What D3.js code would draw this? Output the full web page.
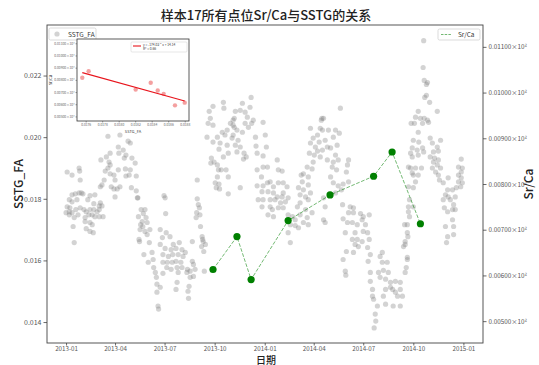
<!DOCTYPE html>
<html><head><meta charset="utf-8">
<script src="https://cdn.jsdelivr.net/npm/d3@7"></script>
<style>body{margin:0;background:#fff}svg{display:block}text{font-family:"Noto Sans CJK SC","DejaVu Sans",sans-serif}</style>
</head><body><svg id="c" width="539" height="365"></svg>
<script>
// ---------- data ----------
// SSTG_FA daily series: day offset from 2013-01-01, value
const sstgDays = [
77,99,114,118,96,105,97,110,107,121,127,81,74,64,79,81,77,72,81,88,
90,96,109,118,116,129,110,99,94,88,83,90,63,66,70,120,129,132,2,11,
24,25,26,11,17,24,28,31,6,11,20,44,53,63,61,66,51,40,2,7,
6,0,11,18,22,33,37,44,51,57,61,35,42,48,53,61,68,26,15,6,
35,44,48,13,37,44,50,15,134,135,136,137,133,138,131,
289,270,263,290,265,261,270,307,302,309,296,287,292,278,259,305,270,283,296,281,
298,289,267,272,266,278,285,294,280,298,278,274,281,276,282,298,241,180,182,183,
145,142,147,140,149,141,145,149,154,173,184,191,177,153,173,197,208,232,182,193,
202,213,219,143,158,178,188,196,206,215,160,151,178,186,195,202,211,232,234,161,
185,193,204,213,223,228,237,164,178,206,222,166,204,228,234,167,173,202,226,224,
167,225,169,170,241,243,245,240,246,239,247,250,251,252,256,249,253,254,
340,324,311,320,329,338,333,344,341,329,335,309,307,314,324,307,316,311,320,314,
327,331,326,348,349,351,362,366,368,362,320,351,362,370,388,390,397,359,351,362,
370,375,381,390,399,406,360,371,381,388,397,399,408,353,362,375,384,394,403,360,
375,379,390,399,371,381,408,416,421,412,421,427,408,412,449,462,467,454,449,465,
458,462,471,456,467,473,469,447,454,443,452,432,436,445,434,445,427,436,449,430,
440,430,445,425,440,430,443,452,436,445,473,
504,470,471,482,495,502,491,480,486,476,498,495,480,491,500,519,517,489,497,515,
486,519,491,500,509,506,495,473,508,522,528,476,519,528,541,546,557,509,476,517,
526,544,550,535,513,531,546,554,526,535,531,537,544,557,515,528,554,559,509,555,
581,577,581,590,513,514,559,574,583,592,577,587,596,605,614,559,563,587,596,600,
605,614,618,609,563,565,583,587,601,614,572,568,569,566,622,627,623,620,627,625,
640,638,636,633,638,629,631,638,629,631,
657,656,658,664,662,659,662,668,682,647,642,651,658,664,666,634,655,647,648,669,
688,673,636,645,655,682,675,633,647,657,684,669,677,684,675,682,629,642,653,673,
688,679,684,636,647,642,686,638,629,627,628,623,627,623,726,721,728,702,726,721,
728,725,717,693,701,710,697,702,715,693,706,712,695,701,710,715,710,697,712,701,
712,699,726,721
];
const sstgValues = [
0.02003,0.02007,0.01987,0.01981,0.01968,0.01958,0.01948,0.01942,0.01932,0.01932,0.01916,0.01948,0.01936,0.01926,0.01919,0.01910,0.01900,0.01890,0.01881,0.01877,
0.01861,0.01894,0.01897,0.01894,0.01877,0.01874,0.01874,0.01839,0.01832,0.01832,0.01839,0.01806,0.01839,0.01845,0.01861,0.01836,0.01826,0.01803,0.01887,0.01877,
0.01900,0.01890,0.01861,0.01813,0.01816,0.01819,0.01819,0.01816,0.01797,0.01790,0.01797,0.01810,0.01813,0.01787,0.01777,0.01777,0.01784,0.01797,0.01774,0.01771,
0.01758,0.01755,0.01755,0.01765,0.01748,0.01765,0.01758,0.01765,0.01765,0.01758,0.01765,0.01739,0.01748,0.01748,0.01742,0.01742,0.01742,0.01771,0.01739,0.01748,
0.01726,0.01723,0.01716,0.01710,0.01703,0.01694,0.01690,0.01658,0.01668,0.01661,0.01700,0.01716,0.01742,0.01765,0.01803,
0.02113,0.02100,0.02084,0.02094,0.02061,0.02045,0.02039,0.02055,0.02045,0.02032,0.02023,0.02016,0.02007,0.02000,0.02000,0.01997,0.01984,0.01981,0.01974,0.01961,
0.01948,0.01936,0.01932,0.01919,0.01916,0.01910,0.01894,0.01894,0.01894,0.01871,0.01871,0.01852,0.01848,0.01836,0.01832,0.01816,0.01861,0.01810,0.01803,0.01752,
0.01765,0.01752,0.01739,0.01726,0.01723,0.01710,0.01694,0.01684,0.01700,0.01700,0.01690,0.01677,0.01674,0.01658,0.01652,0.01652,0.01658,0.01661,0.01639,0.01635,
0.01639,0.01635,0.01626,0.01619,0.01626,0.01619,0.01613,0.01619,0.01619,0.01613,0.01603,0.01594,0.01594,0.01594,0.01594,0.01597,0.01594,0.01597,0.01587,0.01577,
0.01577,0.01571,0.01577,0.01577,0.01571,0.01565,0.01571,0.01561,0.01558,0.01561,0.01561,0.01545,0.01529,0.01545,0.01548,0.01523,0.01513,0.01506,0.01516,0.01500,
0.01497,0.01477,0.01452,0.01442,0.01800,0.01781,0.01771,0.01755,0.01748,0.01739,0.01710,0.01677,0.01668,0.01661,0.01652,0.01645,0.01629,0.01565,
0.02129,0.02110,0.02084,0.02087,0.02081,0.02097,0.02065,0.02055,0.02045,0.02045,0.02032,0.02061,0.02039,0.02023,0.02016,0.02007,0.01990,0.01974,0.01968,0.01952,
0.01948,0.01936,0.01929,0.02000,0.01971,0.01948,0.02048,0.02007,0.01968,0.01939,0.01836,0.01894,0.01903,0.01903,0.01926,0.01894,0.01890,0.01871,0.01842,0.01842,
0.01852,0.01855,0.01839,0.01852,0.01852,0.01839,0.01823,0.01823,0.01819,0.01806,0.01806,0.01819,0.01803,0.01797,0.01797,0.01797,0.01797,0.01787,0.01790,0.01774,
0.01774,0.01765,0.01771,0.01771,0.01748,0.01742,0.01748,0.01742,0.01732,0.01716,0.01713,0.01706,0.01690,0.01658,0.02029,0.02007,0.02029,0.01997,0.01981,0.01984,
0.01968,0.01955,0.01958,0.01942,0.01936,0.02061,0.02055,0.01948,0.01919,0.01903,0.01897,0.01877,0.01881,0.01871,0.01855,0.01845,0.01836,0.01829,0.01819,0.01813,
0.01806,0.01787,0.01797,0.01774,0.01765,0.01748,0.01739,0.01755,0.01723,0.01716,0.01732,
0.02094,0.02061,0.02023,0.02023,0.02023,0.02013,0.02000,0.01968,0.01965,0.01990,0.01974,0.01942,0.01926,0.01919,0.01926,0.01926,0.01910,0.01903,0.01894,0.01887,
0.01871,0.01855,0.01852,0.01842,0.01848,0.01829,0.01819,0.01803,0.01781,0.01774,0.01771,0.01774,0.01755,0.01755,0.01752,0.01742,0.01748,0.01735,0.01723,0.01723,
0.01723,0.01732,0.01716,0.01716,0.01690,0.01690,0.01694,0.01690,0.01668,0.01668,0.01652,0.01645,0.01661,0.01668,0.01629,0.01626,0.01642,0.01619,0.01603,0.01597,
0.01626,0.01613,0.01594,0.01594,0.01565,0.01552,0.01561,0.01561,0.01568,0.01561,0.01545,0.01539,0.01529,0.01532,0.01529,0.01532,0.01506,0.01506,0.01513,0.01506,
0.01497,0.01506,0.01484,0.01484,0.01484,0.01474,0.01484,0.01458,0.01452,0.01452,0.01452,0.01426,0.01403,0.01381,0.01716,0.01690,0.01661,0.01645,0.01603,0.01577,
0.02045,0.01990,0.01936,0.01900,0.01877,0.01839,0.01797,0.01774,0.01758,0.01742,
0.02313,0.02226,0.02184,0.02177,0.02171,0.02129,0.02136,0.02113,0.02084,0.02084,0.02065,0.02061,0.02061,0.02055,0.02048,0.02045,0.02045,0.02016,0.01984,0.01997,
0.01990,0.01981,0.01965,0.01958,0.01965,0.01968,0.01952,0.01948,0.01942,0.01952,0.01955,0.01936,0.01932,0.01926,0.01919,0.01910,0.01903,0.01900,0.01900,0.01900,
0.01900,0.01887,0.01877,0.01884,0.01877,0.01855,0.01861,0.01836,0.01774,0.01716,0.01677,0.01652,0.01610,0.01561,0.01929,0.01903,0.01900,0.01868,0.01868,0.01855,
0.01852,0.01839,0.01836,0.01852,0.01829,0.01829,0.01813,0.01806,0.01806,0.01797,0.01797,0.01781,0.01771,0.01758,0.01765,0.01765,0.01732,0.01710,0.01710,0.01677,
0.01684,0.01658,0.01887,0.01877
];
// Sr/Ca samples
const srcaDates = ["2013-09-28","2013-11-11","2013-12-07","2014-02-13","2014-05-01","2014-07-20","2014-08-23","2014-10-14"];
const srcaValues = [0.00613,0.00685,0.00591,0.00720,0.00776,0.00817,0.00870,0.00713];
const srcaSstg = [0.01880,0.018545,0.018682,0.018206,0.018388,0.017559,0.017636,0.018473];
// ticks
const xTickLabels = ["2013-01","2013-04","2013-07","2013-10","2014-01","2014-04","2014-07","2014-10","2015-01"];
const leftTicks = [0.014,0.016,0.018,0.020,0.022];
const rightTicks = [0.005,0.006,0.007,0.008,0.009,0.010,0.011];
const insetXTicks = [0.0176,0.0178,0.0180,0.0182,0.0184,0.0186,0.0188];
const insetYTicks = [0.005,0.006,0.007,0.008,0.009,0.010,0.011];
const fitText = ["y = -174.02 * x + 14.14","R² = 0.66"];

// ---------- drawing ----------
const W=539,H=365, M={l:47,r:483,t:25,b:343};
const svg=d3.select("#c");
svg.append("rect").attr("width",W).attr("height",H).attr("fill","#fff");
const parse=d3.timeParse("%Y-%m-%d"), parseM=d3.timeParse("%Y-%m");
const t0=new Date(2013,0,1);
const x=d3.scaleTime().domain([new Date(2012,10,27),new Date(2015,1,6)]).range([M.l,M.r]);
const yL=d3.scaleLinear().domain([0.01332,0.02364]).range([M.b,M.t]);
const yR=d3.scaleLinear().domain([0.004522,0.011478]).range([M.b,M.t]);

const n=Math.min(sstgDays.length,sstgValues.length);
const pts=d3.range(n).map(i=>({date:d3.timeDay.offset(t0,sstgDays[i]),v:sstgValues[i]}));
svg.append("g").selectAll("circle").data(pts).join("circle")
  .attr("cx",d=>x(d.date)).attr("cy",d=>yL(d.v)).attr("r",2.6)
  .attr("fill","#7f7f7f").attr("fill-opacity",0.34);

const sr=srcaDates.map((d,i)=>({date:parse(d),v:srcaValues[i],s:srcaSstg[i]}));
svg.append("path").datum(sr).attr("fill","none").attr("stroke","#008000").attr("stroke-opacity",0.55)
  .attr("stroke-width",1).attr("stroke-dasharray","3.7,1.6")
  .attr("d",d3.line().x(d=>x(d.date)).y(d=>yR(d.v)));
svg.append("g").selectAll("circle").data(sr).join("circle")
  .attr("cx",d=>x(d.date)).attr("cy",d=>yR(d.v)).attr("r",3.6).attr("fill","#008000");

// axes
const gx=svg.append("g").attr("transform",`translate(0,${M.b})`)
  .call(d3.axisBottom(x).tickValues(xTickLabels.map(s=>parseM(s))).tickFormat(d3.timeFormat("%Y-%m")).tickSize(2.5).tickPadding(1));
const gl=svg.append("g").attr("transform",`translate(${M.l},0)`)
  .call(d3.axisLeft(yL).tickValues(leftTicks).tickFormat(d3.format(".3f")).tickSize(3.5).tickPadding(2));
const gr=svg.append("g").attr("transform",`translate(${M.r},0)`)
  .call(d3.axisRight(yR).tickValues(rightTicks).tickFormat(d=>d3.format(".5f")(d)+"×10²").tickSize(3.5).tickPadding(2));
[gx,gl,gr].forEach(g=>{g.select(".domain").remove();
  g.selectAll(".tick line").attr("stroke","#444").attr("stroke-width",0.8);
  g.selectAll(".tick text").attr("fill","#555").style("font-size","7px");});
gx.selectAll(".tick text").style("font-size","6.2px");
gr.selectAll(".tick text").style("font-size","6.3px");
svg.append("rect").attr("x",M.l).attr("y",M.t).attr("width",M.r-M.l).attr("height",M.b-M.t)
  .attr("fill","none").attr("stroke","#444").attr("stroke-width",0.9);

// titles
svg.append("text").attr("x",266).attr("y",20).attr("text-anchor","middle").style("font-size","13px").style("font-weight","500").attr("fill","#222").text("样本17所有点位Sr/Ca与SSTG的关系");
svg.append("text").attr("x",266).attr("y",363.5).attr("text-anchor","middle").style("font-size","10px").style("font-weight","500").attr("fill","#222").text("日期");
svg.append("text").attr("transform",`translate(23,${(M.t+M.b)/2}) rotate(-90)`).attr("text-anchor","middle").style("font-size","12px").style("font-weight","500").attr("fill","#222").text("SSTG_FA");
svg.append("text").attr("transform",`translate(533,${(M.t+M.b)/2}) rotate(-90)`).attr("text-anchor","middle").style("font-size","12px").style("font-weight","500").attr("fill","#222").text("Sr/Ca");

// legends
const lg1=svg.append("g");
lg1.append("rect").attr("x",49).attr("y",28).attr("width",47).attr("height",12).attr("rx",1.5).attr("fill","#fff").attr("stroke","#ccc").attr("stroke-width",0.7);
lg1.append("circle").attr("cx",57).attr("cy",34).attr("r",2.6).attr("fill","#7f7f7f").attr("fill-opacity",0.34);
lg1.append("text").attr("x",68).attr("y",36.5).style("font-size","6.5px").attr("fill","#333").text("SSTG_FA");
const lg2=svg.append("g");
lg2.append("rect").attr("x",438).attr("y",29).attr("width",42).attr("height",11).attr("rx",1.5).attr("fill","#fff").attr("stroke","#ccc").attr("stroke-width",0.7);
lg2.append("line").attr("x1",441).attr("x2",452).attr("y1",34.5).attr("y2",34.5).attr("stroke","#008000").attr("stroke-opacity",0.55).attr("stroke-dasharray","2.5,1.2");
lg2.append("text").attr("x",458).attr("y",37).style("font-size","6.5px").attr("fill","#333").text("Sr/Ca");

// inset
const I={l:77,r:189,t:39,b:121};
const ix=d3.scaleLinear().domain([0.017495,0.018852]).range([I.l,I.r]);
const iy=d3.scaleLinear().domain([0.004625,0.01135]).range([I.b,I.t]);
const ins=svg.append("g");
ins.append("rect").attr("x",I.l).attr("y",I.t).attr("width",I.r-I.l).attr("height",I.b-I.t).attr("fill","#fff");
ins.selectAll("circle.p").data(sr).join("circle").attr("class","p")
  .attr("cx",d=>ix(d.s)).attr("cy",d=>iy(d.v)).attr("r",2.2).attr("fill","#f08080").attr("fill-opacity",0.75);
const mx=d3.mean(sr,d=>d.s), my=d3.mean(sr,d=>d.v);
const slope=d3.sum(sr,d=>(d.s-mx)*(d.v-my))/d3.sum(sr,d=>(d.s-mx)**2);
const [x0,x1]=d3.extent(sr,d=>d.s);
ins.append("line").attr("x1",ix(x0)).attr("x2",ix(x1)).attr("y1",iy(my+slope*(x0-mx))).attr("y2",iy(my+slope*(x1-mx)))
  .attr("stroke","#e8141c").attr("stroke-width",1.1);
const gix=ins.append("g").attr("transform",`translate(0,${I.b})`).call(d3.axisBottom(ix).tickValues(insetXTicks).tickFormat(d3.format(".4f")).tickSize(1.5).tickPadding(1));
const giy=ins.append("g").attr("transform",`translate(${I.l},0)`).call(d3.axisLeft(iy).tickValues(insetYTicks).tickFormat(d=>d3.format(".5f")(d)+"×10²").tickSize(1.5).tickPadding(1));
[gix,giy].forEach(g=>{g.select(".domain").remove();
  g.selectAll(".tick line").attr("stroke","#444").attr("stroke-width",0.5);
  g.selectAll(".tick text").attr("fill","#666").style("font-size","3.3px");});
ins.append("rect").attr("x",I.l).attr("y",I.t).attr("width",I.r-I.l).attr("height",I.b-I.t).attr("fill","none").attr("stroke","#333").attr("stroke-width",0.8);
ins.append("text").attr("x",(I.l+I.r)/2).attr("y",133).attr("text-anchor","middle").style("font-size","4px").attr("fill","#333").text("SSTG_FA");
ins.append("text").attr("transform",`translate(52,${(I.t+I.b)/2}) rotate(-90)`).attr("text-anchor","middle").style("font-size","4px").attr("fill","#333").text("Sr/Ca");
const il=ins.append("g");
il.append("rect").attr("x",131).attr("y",42).attr("width",56).attr("height",10).attr("rx",1).attr("fill","#fff").attr("stroke","#ccc").attr("stroke-width",0.5);
il.append("line").attr("x1",133).attr("x2",141).attr("y1",46).attr("y2",46).attr("stroke","#e8141c").attr("stroke-width",1.1);
fitText.forEach((t,i)=>il.append("text").attr("x",143).attr("y",45.5+i*4).style("font-size","3.3px").attr("fill","#333").text(t));
</script></body></html>
